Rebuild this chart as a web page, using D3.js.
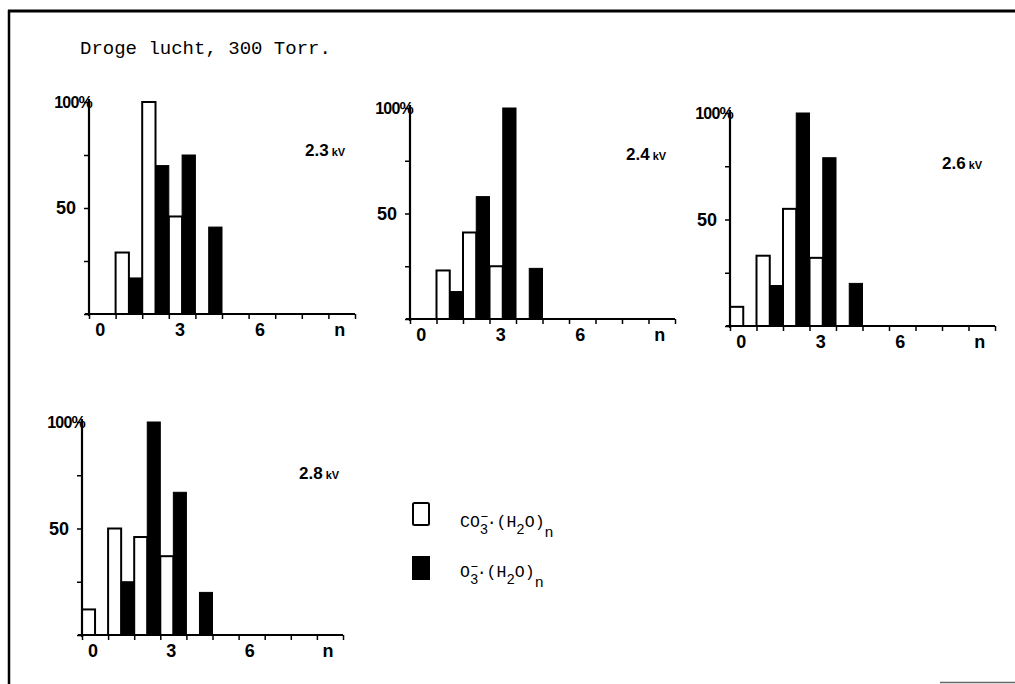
<!DOCTYPE html>
<html>
<head>
<meta charset="utf-8">
<script src="https://cdn.jsdelivr.net/npm/d3@7"></script>
<style>
  html, body { margin: 0; padding: 0; background: #fff; }
  svg { display: block; }
</style>
</head>
<body>
<svg id="chart" width="1015" height="684"></svg>
<script>
// ---------------- DATA ----------------
const title = "Droge lucht, 300 Torr.";
const nValues = [0, 1, 2, 3, 4];                 // cluster size n
const xTickLabels = ["0", "3", "6", "n"];        // labels shown under x axis
const xTickPositions = [0, 3, 6, 9];
const yTickValues = [0, 25, 50, 75, 100];
const voltages = ["2.3", "2.4", "2.6", "2.8"];
// CO3-.(H2O)n  (open bars), percent
const co3_23 = [0, 29, 100, 46, 0];
const co3_24 = [0, 23, 41, 25, 0];
const co3_26 = [9, 33, 55, 32, 0];
const co3_28 = [12, 50, 46, 37, 0];
// O3-.(H2O)n  (filled bars), percent
const o3_23 = [0, 17, 70, 75, 41];
const o3_24 = [0, 13, 58, 100, 24];
const o3_26 = [0, 19, 100, 79, 20];
const o3_28 = [0, 25, 100, 67, 20];

// ---------------- LAYOUT ----------------
const panels = [
  { kv: voltages[0], co3: co3_23, o3: o3_23, ax: 89,  base: 314, top: 102, end: 355, kvx: 305, kvy: 156 },
  { kv: voltages[1], co3: co3_24, o3: o3_24, ax: 410, base: 319, top: 108, end: 675, kvx: 626, kvy: 160 },
  { kv: voltages[2], co3: co3_26, o3: o3_26, ax: 730, base: 326, top: 113, end: 995, kvx: 942, kvy: 169 },
  { kv: voltages[3], co3: co3_28, o3: o3_28, ax: 82,  base: 635, top: 422, end: 343, kvx: 299, kvy: 479 }
];

const svg = d3.select("#chart");

// frame
svg.append("line").attr("x1", 8).attr("x2", 1015).attr("y1", 11).attr("y2", 11)
  .attr("stroke", "#000").attr("stroke-width", 3);
svg.append("line").attr("x1", 9).attr("x2", 9).attr("y1", 10).attr("y2", 684)
  .attr("stroke", "#000").attr("stroke-width", 2.5);
svg.append("line").attr("x1", 940).attr("x2", 1015).attr("y1", 682.5).attr("y2", 682.5)
  .attr("stroke", "#666").attr("stroke-width", 1.5);

// title
svg.append("text").attr("x", 80).attr("y", 54)
  .attr("font-family", "Liberation Mono, monospace").attr("font-size", 19)
  .attr("fill", "#000").text(title);

const sans = "Liberation Sans, Arial, sans-serif";

panels.forEach(p => {
  const g = svg.append("g");
  const x = d3.scaleLinear().domain([0, 10]).range([p.ax, p.end]);
  const y = d3.scaleLinear().domain([0, 100]).range([p.base, p.top]);

  // bars: open (CO3-) left half, filled (O3-) right half
  g.selectAll("rect.co3").data(nValues.filter(n => p.co3[n] > 0)).join("rect")
    .attr("class", "co3")
    .attr("x", n => x(n)).attr("width", n => x(n + 0.5) - x(n))
    .attr("y", n => y(p.co3[n])).attr("height", n => y(0) - y(p.co3[n]))
    .attr("fill", "#fff").attr("stroke", "#000").attr("stroke-width", 2);
  g.selectAll("rect.o3").data(nValues.filter(n => p.o3[n] > 0)).join("rect")
    .attr("class", "o3")
    .attr("x", n => x(n + 0.5)).attr("width", n => x(n + 1) - x(n + 0.5))
    .attr("y", n => y(p.o3[n])).attr("height", n => y(0) - y(p.o3[n]))
    .attr("fill", "#000").attr("stroke", "#000").attr("stroke-width", 1);

  // y axis
  const yAxis = d3.axisLeft(y).tickValues(yTickValues).tickSize(5).tickFormat("");
  const ya = g.append("g").attr("transform", `translate(${p.ax},0)`).call(yAxis);
  ya.select(".domain").attr("d", `M0,${p.base + 2}V${p.top - 3}`).attr("stroke-width", 2.2);
  ya.selectAll(".tick line").attr("stroke-width", 1.5);

  // x axis
  const xAxis = d3.axisBottom(x).ticks(10).tickSize(5).tickFormat("");
  const xa = g.append("g").attr("transform", `translate(0,${p.base})`).call(xAxis);
  xa.select(".domain").attr("d", `M${p.ax - 4},0H${p.end}`).attr("stroke-width", 2.2);
  xa.selectAll(".tick line").attr("stroke-width", 1.5);

  // x labels
  g.selectAll("text.xl").data(xTickPositions).join("text")
    .attr("class", "xl")
    .attr("x", (d, i) => x(d + 0.5) - 2).attr("y", p.base + 22)
    .attr("text-anchor", "middle")
    .attr("font-family", sans).attr("font-weight", "bold").attr("font-size", 18)
    .text((d, i) => xTickLabels[i]);

  // y labels
  g.append("text").attr("x", p.ax - 13).attr("y", y(50)).attr("dy", "0.36em")
    .attr("text-anchor", "end")
    .attr("font-family", sans).attr("font-weight", "bold").attr("font-size", 18)
    .text("50");
  g.append("text").attr("x", p.ax + 3).attr("y", y(100) + 6)
    .attr("text-anchor", "end")
    .attr("font-family", sans).attr("font-weight", "bold").attr("font-size", 16)
    .attr("letter-spacing", -0.8)
    .text("100%");

  // voltage label
  const t = g.append("text").attr("x", p.kvx).attr("y", p.kvy)
    .attr("font-family", sans).attr("font-weight", "bold").attr("font-size", 17);
  t.append("tspan").text(p.kv);
  t.append("tspan").attr("dx", 3).attr("font-size", 11).text("kV");
});

// ---------------- LEGEND ----------------
const mono = "Liberation Mono, monospace";
svg.append("rect").attr("x", 413).attr("y", 503).attr("width", 16).attr("height", 22)
  .attr("rx", 1.5).attr("fill", "#fff").attr("stroke", "#000").attr("stroke-width", 2);
svg.append("rect").attr("x", 412).attr("y", 556).attr("width", 18).attr("height", 24)
  .attr("fill", "#000");

function formula(parent, xPos, yPos, head) {
  const t = parent.append("text").attr("x", xPos).attr("y", yPos)
    .attr("font-family", mono).attr("font-size", 16.5).attr("fill", "#000");
  t.append("tspan").text(head);
  t.append("tspan").attr("font-size", 14).attr("dy", 7).text("3");
  t.append("tspan").attr("font-size", 14).attr("dx", -8).attr("dy", -14).text("–");
  t.append("tspan").attr("dy", 7).attr("dx", -2).text("·(H");
  t.append("tspan").attr("font-size", 14).attr("dy", 7).text("2");
  t.append("tspan").attr("dy", -7).text("O)");
  t.append("tspan").attr("font-size", 15).attr("dy", 10).text("n");
}
formula(svg, 460, 527, "CO");
formula(svg, 460, 577, "O");
</script>
</body>
</html>
